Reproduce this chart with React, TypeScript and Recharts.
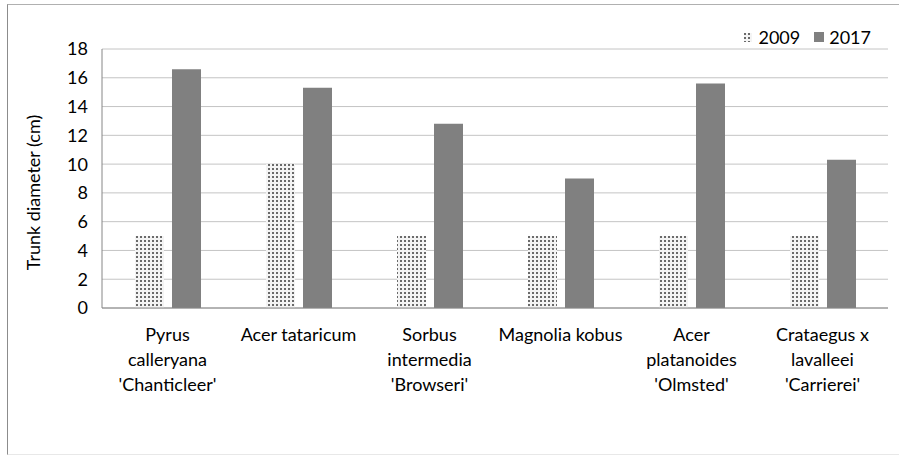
import React from "react";
import {
    BarChart,
    Bar,
    XAxis,
    YAxis,
    CartesianGrid,
    Legend,
} from "recharts";

const species = [
    "Pyrus calleryana 'Chanticleer'",
    "Acer tataricum",
    "Sorbus intermedia 'Browseri'",
    "Magnolia kobus",
    "Acer platanoides 'Olmsted'",
    "Crataegus x lavalleei 'Carrierei'",
];

// wrapped category labels, one array of lines per species
const speciesLines = [
    ["Pyrus", "calleryana", "'Chanticleer'"],
    ["Acer tataricum"],
    ["Sorbus", "intermedia", "'Browseri'"],
    ["Magnolia kobus"],
    ["Acer", "platanoides", "'Olmsted'"],
    ["Crataegus x", "lavalleei", "'Carrierei'"],
];

const diameter2009 = [5, 10, 5, 5, 5, 5];
const diameter2017 = [16.6, 15.3, 12.8, 9, 15.6, 10.3];

const yTicks = [0, 2, 4, 6, 8, 10, 12, 14, 16, 18];

const FONT = "Lato, 'Liberation Sans', sans-serif";
const DARK = "#808080";

const data = species.map((name, i) => ({
    name,
    y2009: diameter2009[i],
    y2017: diameter2017[i],
}));

const SpeciesTick = ({ x, y, index }: any) => {
    const lines = speciesLines[index] || [];
    return (
        <text
            x={x}
            y={y}
            textAnchor="middle"
            fontFamily={FONT}
            fontSize={18}
            fill="#000"
        >
            {lines.map((line, i) => (
                <tspan key={i} x={x} dy={i === 0 ? 25 : 25}>
                    {line}
                </tspan>
            ))}
        </text>
    );
};

const YearLegend = () => (
    <div
        style={{
            display: "flex",
            alignItems: "center",
            fontFamily: FONT,
            fontSize: 18,
            color: "#000",
        }}
    >
        <svg width={8} height={9} style={{ marginRight: 6 }}>
            <rect width={8} height={9} fill="url(#dots)" />
        </svg>
        <span style={{ marginRight: 14 }}>2009</span>
        <svg width={10} height={10} style={{ marginRight: 5 }}>
            <rect width={10} height={10} fill={DARK} />
        </svg>
        <span>2017</span>
    </div>
);

export default function App() {
    return (
        <div
            style={{
                position: "absolute",
                left: 0,
                top: 0,
                width: 899,
                height: 455,
                background: "#fff",
                overflow: "hidden",
            }}
        >
            <div
                style={{
                    position: "absolute",
                    left: 7,
                    top: 4,
                    width: 900,
                    height: 449,
                    borderLeft: "1px solid #8c8c8c",
                    borderTop: "1px solid #b0b0b0",
                    borderBottom: "1px solid #e8e8e8",
                }}
            />
            <div style={{ position: "absolute", left: 0, top: 0 }}>
                <BarChart
                    width={899}
                    height={455}
                    data={data}
                    margin={{ top: 27, right: 11, bottom: 47, left: 0 }}
                    barSize={29}
                    barGap={8}
                >
                    <defs>
                        <pattern
                            id="dots"
                            width={4}
                            height={4}
                            patternUnits="userSpaceOnUse"
                        >
                            <rect width={4} height={4} fill="#f4f4f4" />
                            <rect width={2} height={2} fill="#6a6a6a" />
                        </pattern>
                    </defs>
                    <CartesianGrid
                        vertical={false}
                        stroke="#c4c4c4"
                        strokeWidth={1}
                    />
                    <XAxis
                        dataKey="name"
                        height={100}
                        interval={0}
                        tickLine={false}
                        axisLine={{ stroke: "#868686" }}
                        tick={<SpeciesTick />}
                    />
                    <YAxis
                        width={102}
                        domain={[0, 18]}
                        ticks={yTicks}
                        interval={0}
                        tickLine={false}
                        tickSize={0}
                        tickMargin={14}
                        axisLine={{ stroke: "#868686" }}
                        tick={{ fontFamily: FONT, fontSize: 18, fill: "#000" }}
                        label={{
                            value: "Trunk diameter (cm)",
                            angle: -90,
                            position: "insideLeft",
                            dx: 29,
                            dy: 14,
                            style: {
                                fontFamily: FONT,
                                fontSize: 18,
                                fill: "#000",
                                textAnchor: "middle",
                            },
                        }}
                    />
                    <Legend
                        verticalAlign="top"
                        align="right"
                        content={<YearLegend />}
                        wrapperStyle={{ top: 26, right: 28, left: "auto", width: "auto" }}
                    />
                    <Bar dataKey="y2009" name="2009" fill="url(#dots)" isAnimationActive={false} />
                    <Bar dataKey="y2017" name="2017" fill={DARK} isAnimationActive={false} />
                </BarChart>
            </div>
        </div>
    );
}
